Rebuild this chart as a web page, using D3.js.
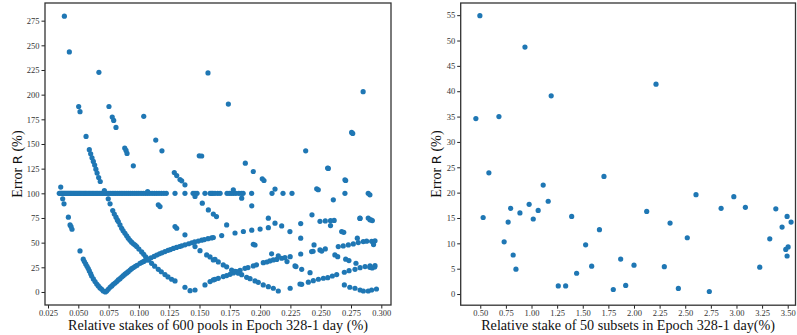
<!DOCTYPE html>
<html>
<head>
<meta charset="utf-8">
<script src="https://cdn.jsdelivr.net/npm/d3@7/dist/d3.min.js"></script>
<style>
  body { margin: 0; background: #fff; }
  svg { display: block; }
  .tick text { font-family: "Liberation Serif", "Times New Roman", serif; font-size: 8.5px; fill: #333; }
  .tick line { stroke: #222; }
  .domain { display: none; }
  .lbl { font-family: "Liberation Serif", "Times New Roman", serif; font-size: 14.2px; fill: #111; }
</style>
</head>
<body>
<div id="chart"></div>
<script>
// ---- left panel: 600 pools, grouped by the estimated-stake curve they sit on
const poolsFlat = [0.0343,0.0350,0.0357,0.0364,0.0371,0.0378,0.0386,0.0393,0.0401,0.0409,0.0417,0.0425,0.0433,0.0441,0.0449,0.0458,0.0466,0.0475,0.0484,0.0493,0.0502,0.0511,0.0520,0.0530,0.0540,0.0550,0.0560,0.0570,0.0581,0.0592,0.0603,0.0614,0.0625,0.0637,0.0649,0.0661,0.0673,0.0686,0.0699,0.0712,0.0725,0.0738,0.0752,0.0766,0.0780,0.0794,0.0808,0.0823,0.0838,0.0853,0.0868,0.0884,0.0900,0.0916,0.0932,0.0949,0.0966,0.0983,0.1000,0.1018,0.1036,0.1054,0.1072,0.1090,0.1109,0.1128,0.1147,0.1166,0.1186,0.1206,0.1226,0.1298,0.1380,0.1447,0.1463,0.1480,0.1545,0.1587,0.1600,0.1611,0.1628,0.1650,0.1670,0.1727,0.1745,0.1762,0.1780,0.1800,0.1825,0.1845,0.1860,0.1930,0.2098,0.2189,0.2263,0.2700,0.2892]
  .map(x => [x, 100]).concat([[0.2906, 98.5]]);

const poolsC072 = [[0.0355,106.3],[0.0371,94.4],[0.0382,89.3],[0.0418,75.8],[0.0432,68],[0.044,66.3],[0.0448,63.6],[0.0514,41.6],[0.0541,33.2],[0.055,30.8],[0.0561,28.4],[0.0572,26.1],[0.0582,23.7],[0.0591,21.3],[0.0602,18.6],[0.061,16.2],[0.0624,13.2],[0.0638,10.5],[0.0652,8.1],[0.0665,6.1],[0.0679,4.1],[0.0693,2.7],[0.0706,1.0],[0.0723,0],[0.0734,1.0],[0.0747,2.7],[0.0762,4.8],[0.0776,6.1],[0.0789,7.8],[0.0803,9.1],[0.0817,10.5],[0.083,12.2],[0.0844,13.5],[0.0858,15.2],[0.0871,16.5],[0.0885,18.0],[0.0899,19.3],[0.0912,20.6],[0.0927,22.3],[0.094,23.6],[0.0955,24.8],[0.097,26],[0.0985,27.1],[0.1009,29],[0.1025,30.1],[0.104,31],[0.106,32.3],[0.1078,33.3],[0.11,34.6],[0.1125,36],[0.1147,37.5],[0.117,38.7],[0.119,39.7],[0.1215,41],[0.124,42.2],[0.126,43],[0.1284,44.1],[0.131,45.2],[0.1335,46.1],[0.1353,46.8],[0.138,47.8],[0.141,48.9],[0.1436,49.9],[0.146,50.7],[0.149,51.6],[0.1518,52.5],[0.154,53.1],[0.157,54],[0.16,54.8],[0.1614,55.2],[0.1683,57.2],[0.1793,59.8],[0.1862,61.3],[0.1931,62.6],[0.2,63.8],[0.2068,65.2],[0.2178,66.9],[0.2335,69.3],[0.2494,71.6],[0.2538,72],[0.2581,72.3],[0.2611,72.5],[0.2824,74.6],[0.2892,75],[0.2915,73.1],[0.2926,72.4]];

const poolsC143 = [[0.0385,279.5],[0.0426,243.3],[0.0503,188],[0.0514,182.7],[0.0564,157.7],[0.0591,144.2],[0.0602,140.1],[0.0613,136],[0.0624,132.3],[0.0635,128.6],[0.0645,124.5],[0.0655,120.5],[0.0668,116],[0.0681,112],[0.0715,102.8],[0.0747,94.4],[0.0762,89.3],[0.0784,82.5],[0.0797,79],[0.0811,75.8],[0.0822,73],[0.083,71.4],[0.0844,68],[0.0858,64.5],[0.087,62],[0.0885,59.5],[0.0899,57],[0.0912,54.5],[0.0926,52.4],[0.094,50.5],[0.0955,48.8],[0.0969,47.5],[0.0982,46],[0.1,43.5],[0.1023,40.6],[0.104,38.2],[0.1056,35.5],[0.108,32.3],[0.1105,29],[0.113,26.2],[0.116,23],[0.1185,20.5],[0.1215,17.6],[0.124,15.3],[0.127,12.9],[0.1298,11.2],[0.138,4.8],[0.1422,1.3],[0.1463,2],[0.1545,7.1],[0.1587,10.5],[0.1614,12.2],[0.1628,12.8],[0.1655,13.8],[0.1696,15.6],[0.1724,16.6],[0.1752,17.9],[0.178,19.3],[0.1807,20.6],[0.1835,21.9],[0.1875,24],[0.19,24.7],[0.1944,26.4],[0.197,27.5],[0.2026,29.7],[0.2055,30.4],[0.208,31.5],[0.2109,32.5],[0.2137,33],[0.2178,34.2],[0.2205,34.8],[0.2248,35.8],[0.2335,38.5],[0.2425,41],[0.2437,41.3],[0.2538,43.6],[0.2645,46],[0.2686,46.7],[0.2728,47.7],[0.2769,48.7],[0.281,50.1],[0.2851,51.1],[0.2879,51.5],[0.292,51.3],[0.2948,51.8]];

const poolsC216 = [[0.067,222.6],[0.0753,188],[0.078,177.3],[0.0792,173.9],[0.0811,166.8],[0.0883,145.9],[0.0894,143.5],[0.0902,140.4],[0.0954,127.9],[0.1072,101.8],[0.116,88.3],[0.1174,86.6],[0.1298,66.3],[0.1312,64.6],[0.138,57.9],[0.1463,46],[0.1504,41.9],[0.1559,37.6],[0.1587,35.5],[0.1614,32.5],[0.1628,33],[0.1655,30.5],[0.1696,27.4],[0.1724,25.5],[0.1765,22.3],[0.1793,21],[0.182,19],[0.1848,17.5],[0.1889,14.9],[0.1917,13.5],[0.1958,11.2],[0.1985,9.8],[0.2026,7.1],[0.2068,5.4],[0.2109,3.8],[0.215,1],[0.2248,3.8],[0.2329,8.1],[0.2343,7.8],[0.2398,9.9],[0.2439,11.5],[0.2481,12.9],[0.2522,13.9],[0.2558,14.5],[0.2596,16.2],[0.2632,17.6],[0.2695,20],[0.2734,21.6],[0.2783,23],[0.2825,24.6],[0.2866,25.7],[0.2907,26.4],[0.2948,26.7],[0.2905,25],[0.2925,24.3],[0.2945,25.3]];

const poolsC289 = [[0.104,178],[0.1139,154],[0.119,143.1],[0.1292,121],[0.1312,118],[0.1339,114],[0.1353,112.7],[0.138,108.6],[0.1463,96.8],[0.1523,90],[0.1573,83.2],[0.1614,79],[0.164,76.4],[0.1724,68],[0.1944,48.4],[0.1958,47.6],[0.2095,38.6],[0.215,36.5],[0.2222,30.8],[0.2288,26.4],[0.2296,25.7],[0.2343,23],[0.2412,19.6],[0.2695,7.1],[0.274,4.8],[0.2783,3.8],[0.2825,2],[0.2852,1],[0.2892,1],[0.292,2],[0.296,3]];

const poolsC361 = [[0.1498,138],[0.1518,137.8],[0.1779,103.6],[0.1848,95.1],[0.1931,87.3],[0.2068,74.8],[0.2123,69.7],[0.2246,61.2],[0.2335,54.5],[0.2445,47.7],[0.2494,42.6],[0.2508,41.5],[0.2617,37.6],[0.264,35.8],[0.2706,33.2],[0.2733,31.8],[0.2791,29.1]];

const poolsC433 = [[0.1878,130.6],[0.1944,122.1],[0.2018,114.7],[0.2032,113],[0.2123,104.3],[0.2428,78.2],[0.2581,67.3],[0.2673,61.2],[0.269,60.5],[0.2802,54.5],[0.2936,48]];

const poolsHigh = [[0.157,222],[0.1738,190.5],[0.2467,104.6],[0.248,103.6],[0.2604,93.4],[0.2824,74.8],[0.2906,73.1],[0.2376,143.1],[0.2557,125.6],[0.2563,125.2],[0.27,113.7],[0.2706,113],[0.2755,161.7],[0.2764,160.7],[0.285,203]];

const poolXTicks = [0.025,0.050,0.075,0.100,0.125,0.150,0.175,0.200,0.225,0.250,0.275,0.300];
const poolYTicks = [0,25,50,75,100,125,150,175,200,225,250,275];

// ---- right panel: 50 subsets
const subsetStake = [0.496,0.936,1.192,0.457,0.682,2.215,0.584,0.528,1.114,1.163,0.977,0.796,0.887,1.065,1.017,0.772,1.392,0.733,0.821,0.848,1.261,1.333,1.44,1.528,1.587,1.663,1.707,2.124,2.605,2.974,2.85,3.087,3.384,3.494,3.533,3.445,2.352,2.52,3.325,3.504,3.481,3.494,1.87,2.0,2.296,3.227,1.798,1.919,2.433,2.735];
const subsetError = [54.9,48.7,39.1,34.6,35.0,41.4,23.9,15.1,21.5,18.3,17.7,16.9,16.0,16.5,14.8,14.2,15.3,10.3,7.7,4.9,1.6,1.6,4.1,9.7,5.5,12.7,23.2,16.3,19.6,19.2,16.9,17.1,16.8,15.3,14.2,13.2,14.0,11.1,10.9,9.3,8.8,7.5,6.9,5.7,5.4,5.3,0.9,1.7,1.1,0.5];
const subsetXTicks = [0.5,0.75,1.0,1.25,1.5,1.75,2.0,2.25,2.5,2.75,3.0,3.25,3.5];
const subsetYTicks = [0,5,10,15,20,25,30,35,40,45,50,55];

const dotColor = '#1f77b4';
const svg = d3.select('#chart').append('svg').attr('width', 797).attr('height', 335);

function panel(box, xDomain, yDomain, xTicks, yTicks, xFmt, points, xLabel) {
  const x = d3.scaleLinear().domain(xDomain).range([box.left, box.right]);
  const y = d3.scaleLinear().domain(yDomain).range([box.bottom, box.top]);

  svg.append('g')
    .attr('transform', `translate(0,${box.bottom})`)
    .call(d3.axisBottom(x).tickValues(xTicks).tickFormat(d3.format(xFmt)).tickSize(3.5).tickPadding(1.5));
  svg.append('g')
    .attr('transform', `translate(${box.left},0)`)
    .call(d3.axisLeft(y).tickValues(yTicks).tickSize(3.5).tickPadding(2));

  svg.append('g').selectAll('circle')
    .data(points)
    .enter()
    .append('circle')
    .attr('cx', d => x(d[0]))
    .attr('cy', d => y(d[1]))
    .attr('r', 2.6)
    .attr('fill', dotColor);

  svg.append('rect')
    .attr('x', box.left).attr('y', box.top)
    .attr('width', box.right - box.left).attr('height', box.bottom - box.top)
    .attr('fill', 'none').attr('stroke', '#333').attr('stroke-width', 1.3);

  svg.append('text').attr('class', 'lbl')
    .attr('x', (box.left + box.right) / 2).attr('y', 330.3)
    .attr('text-anchor', 'middle')
    .text(xLabel);

  const yl = svg.append('text').attr('class', 'lbl')
    .attr('transform', `translate(${box.yLabelX},164) rotate(-90)`)
    .attr('text-anchor', 'middle');
  yl.append('tspan').text('Error ');
  yl.append('tspan').style('font-family', '"DejaVu Sans", sans-serif').style('font-size', '13px').text('R');
  yl.append('tspan').text(' (%)');
}

const poolPoints = [].concat(poolsFlat, poolsC072, poolsC143, poolsC216, poolsC289, poolsC361, poolsC433, poolsHigh);
panel({left: 45, right: 391, top: 3, bottom: 305, yLabelX: 22},
  [0.02252, 0.308], [-13.2, 292.9], poolXTicks, poolYTicks, '.3f', poolPoints,
  'Relative stakes of 600 pools in Epoch 328-1 day (%)');

const subsetPoints = subsetStake.map((s, i) => [s, subsetError[i]]);
panel({left: 460.7, right: 795.5, top: 3, bottom: 305.2, yLabelX: 441},
  [0.309, 3.576], [-2.2, 57.4], subsetXTicks, subsetYTicks, '.2f', subsetPoints,
  'Relative stake of 50 subsets in Epoch 328-1 day(%)');
</script>
</body>
</html>
